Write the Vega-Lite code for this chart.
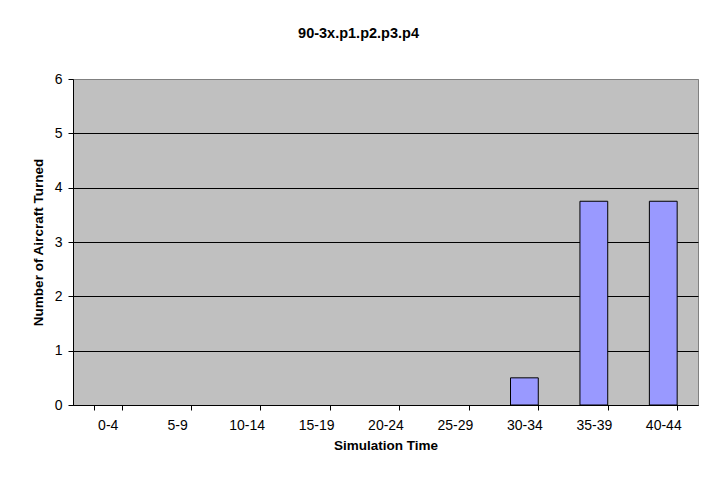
{
  "$schema": "https://vega.github.io/schema/vega-lite/v6.json",
  "width": 625,
  "height": 326,
  "autosize": {"type": "none"},
  "padding": {"left": 73, "top": 79, "right": 9, "bottom": 80},
  "background": "white",
  "title": {
    "text": "90-3x.p1.p2.p3.p4",
    "font": "Liberation Sans",
    "fontSize": 14.5,
    "fontWeight": "bold",
    "color": "black",
    "anchor": "middle",
    "frame": "group",
    "dx": -27,
    "offset": 31
  },
  "data": {
    "values": [
      {"time": "0-4", "count": 0},
      {"time": "5-9", "count": 0},
      {"time": "10-14", "count": 0},
      {"time": "15-19", "count": 0},
      {"time": "20-24", "count": 0},
      {"time": "25-29", "count": 0},
      {"time": "30-34", "count": 0.5},
      {"time": "35-39", "count": 3.75},
      {"time": "40-44", "count": 3.75}
    ]
  },
  "mark": {"type": "bar", "fill": "#9999FF", "stroke": "black"},
  "encoding": {
    "x": {
      "field": "time",
      "type": "nominal",
      "sort": null,
      "scale": {"paddingInner": 0.6, "paddingOuter": 0.3},
      "axis": {
        "title": "Simulation Time",
        "labelAngle": 0,
        "labelFontSize": 14,
        "titleFontSize": 13.5,
        "tickBand": "extent",
        "grid": false,
        "domainColor": "black",
        "tickColor": "black",
        "tickSize": 5,
        "labelPadding": 8,
        "titlePadding": 6
      }
    },
    "y": {
      "field": "count",
      "type": "quantitative",
      "scale": {"domain": [0, 6], "nice": false},
      "axis": {
        "values": [0, 1, 2, 3, 4, 5, 6],
        "title": "Number of Aircraft Turned",
        "labelFontSize": 14,
        "titleFontSize": 13.5,
        "grid": true,
        "gridColor": {"condition": {"test": "datum.value === 6", "value": "#808080"}, "value": "black"},
        "gridOpacity": 1,
        "domainColor": "black",
        "tickColor": "black",
        "tickSize": 5,
        "labelPadding": 6,
        "titlePadding": 9
      }
    },
    "strokeWidth": {
      "condition": {"test": "datum.count > 0", "value": 1},
      "value": 0
    }
  },
  "config": {
    "view": {"fill": "#C0C0C0", "stroke": "#808080"},
    "axis": {
      "labelFont": "Liberation Sans",
      "labelColor": "black",
      "titleFont": "Liberation Sans",
      "titleFontWeight": "bold",
      "titleColor": "black"
    }
  }
}
